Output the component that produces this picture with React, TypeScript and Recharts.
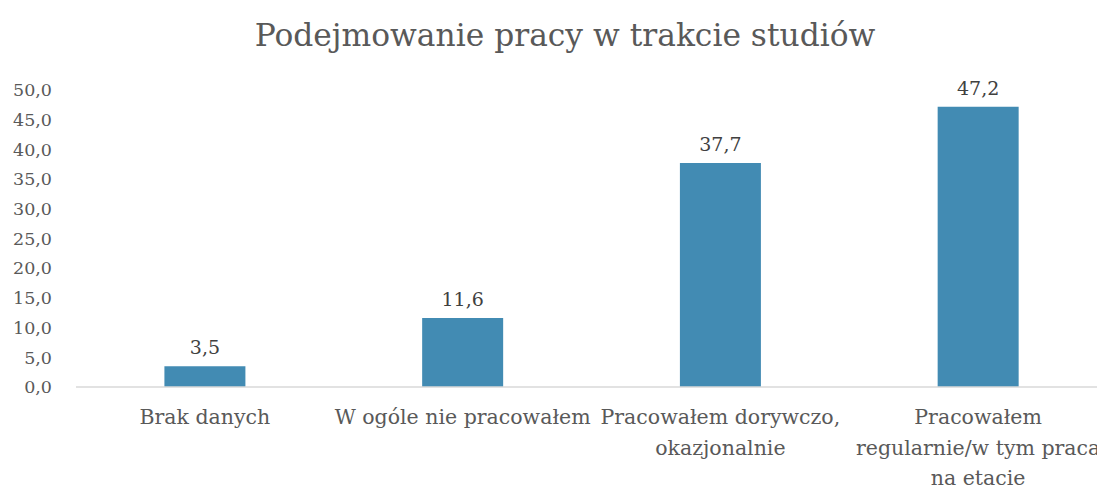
import { BarChart, Bar, XAxis, YAxis, LabelList } from "recharts";

const categories = [
  "Brak danych",
  "W ogóle nie pracowałem",
  "Pracowałem dorywczo,\nokazjonalnie",
  "Pracowałem\nregularnie/w tym praca\nna etacie",
];
const values = [3.5, 11.6, 37.7, 47.2];
const yTicks = [0, 5, 10, 15, 20, 25, 30, 35, 40, 45, 50];

const data = categories.map((name, i) => ({ name, value: values[i] }));

const FONT = "'DejaVu Serif', serif";
const fmt = (v: number) => v.toFixed(1).replace(".", ",");

function CategoryTick(props: any) {
  const { x, y, payload } = props;
  const lines = String(payload.value).split("\n");
  return (
    <text
      x={x}
      y={y}
      textAnchor="middle"
      fill="#595959"
      fontSize={20.5}
      fontFamily={FONT}
    >
      {lines.map((line, i) => (
        <tspan key={i} x={x} dy={i === 0 ? 0 : 30.5}>
          {line}
        </tspan>
      ))}
    </text>
  );
}

export default function App() {
  return (
    <div
      style={{
        position: "fixed",
        left: 0,
        top: 0,
        width: 1097,
        height: 486,
        overflow: "hidden",
        background: "#fff",
      }}
    >
      <div
        style={{
          position: "absolute",
          top: 17,
          left: 0,
          width: 1130,
          textAlign: "center",
          fontFamily: FONT,
          fontSize: 31.3,
          color: "#595959",
        }}
      >
        Podejmowanie pracy w trakcie studiów
      </div>
      <BarChart
        width={1110}
        height={486}
        data={data}
        margin={{ top: 90, right: 3, bottom: 0, left: 0 }}
        barCategoryGap="34.3%"
      >
        <XAxis
          dataKey="name"
          axisLine={{ stroke: "#d9d9d9", strokeWidth: 1.5 }}
          tickLine={false}
          height={99}
          interval={0}
          tickMargin={31}
          tick={<CategoryTick />}
        />
        <YAxis
          domain={[0, 50]}
          ticks={yTicks}
          width={76}
          axisLine={false}
          tickLine={false}
          tickSize={0}
          tickMargin={24}
          tickFormatter={fmt}
          tick={{ fill: "#595959", fontSize: 17.5, fontFamily: FONT }}
        />
        <Bar dataKey="value" fill="#428bb3" isAnimationActive={false}>
          <LabelList
            dataKey="value"
            position="top"
            offset={12}
            formatter={(v: any) => fmt(Number(v))}
            fill="#404040"
            fontSize={19}
            fontFamily={FONT}
          />
        </Bar>
      </BarChart>
    </div>
  );
}
